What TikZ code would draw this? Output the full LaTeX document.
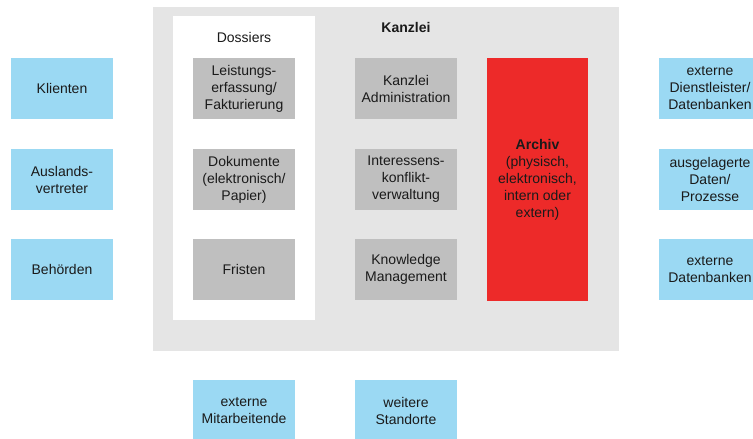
\documentclass[tikz,border=0pt]{standalone}
\usepackage{fontspec}
\setmainfont{Liberation Sans}
\definecolor{extblue}{RGB}{155,217,243}
\definecolor{unitgray}{RGB}{191,191,191}
\definecolor{firmgray}{RGB}{229,229,229}
\definecolor{archred}{RGB}{237,42,41}
\definecolor{ink}{RGB}{26,26,26}
\begin{document}
\begin{tikzpicture}[x=1pt,y=-1pt,
  every node/.style={font=\fontsize{14}{17}\selectfont, text=ink, align=center, inner sep=0pt},
  cell/.style={minimum width=102pt, minimum height=61pt},
  extbox/.style={cell, fill=extblue},
  unitbox/.style={cell, fill=unitgray}]
\useasboundingbox (0,0) rectangle (753,439);

% firm area and dossier panel
\fill[firmgray] (153,7) rectangle (619,351);
\fill[white] (173,16) rectangle (315,320);
\node (kanzlei) at (406,27) {\bfseries Kanzlei};
\node (dossiers) at (244,37) {Dossiers};

% dossier units
\node[unitbox] (leist) at (244,88.5) {Leistungs-\\erfassung/\\Fakturierung};
\node[unitbox] (doku) at (244,179.5) {Dokumente\\(elektronisch/\\Papier)};
\node[unitbox] (fristen) at (244,269.5) {Fristen};

% firm units
\node[unitbox] (admin) at (406,88.5) {Kanzlei\\Administration};
\node[unitbox] (konflikt) at (406,179.5) {Interessens-\\konflikt-\\verwaltung};
\node[unitbox] (km) at (406,269.5) {Knowledge\\Management};

% archive
\node[fill=archred, minimum width=101pt, minimum height=243pt] (archiv) at (537.5,179.5)
  {\textbf{Archiv}\\(physisch,\\elektronisch,\\intern oder\\extern)};

% external parties, left
\node[extbox] (klienten) at (62,88.5) {Klienten};
\node[extbox] (ausland) at (62,179.5) {Auslands-\\vertreter};
\node[extbox] (behoerden) at (62,269.5) {Behörden};

% external parties, right
\node[extbox] (dienst) at (710,88.5) {externe\\Dienstleister/\\Datenbanken};
\node[extbox] (ausgelagert) at (710,179.5) {ausgelagerte\\Daten/\\Prozesse};
\node[extbox] (extdb) at (710,269.5) {externe\\Datenbanken};

% external parties, bottom
\node[extbox] (mitarb) at (244,410.5) {externe\\Mitarbeitende};
\node[extbox] (standorte) at (406,410.5) {weitere\\Standorte};
\end{tikzpicture}
\end{document}
